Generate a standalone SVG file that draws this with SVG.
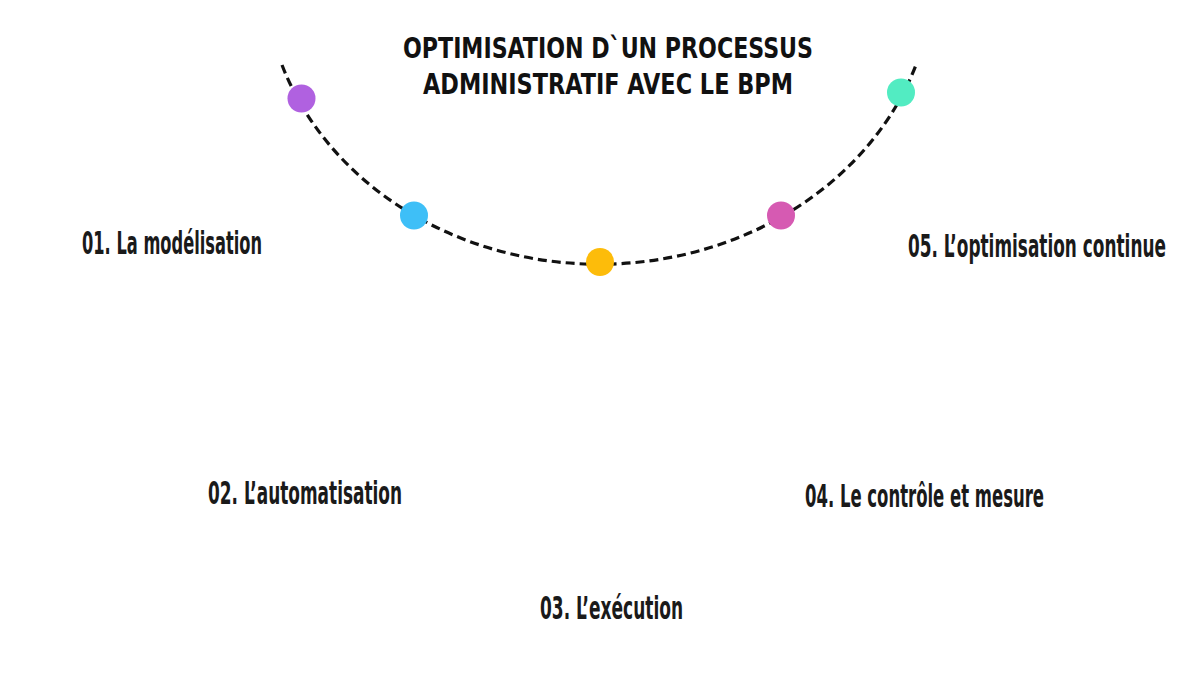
<svg xmlns="http://www.w3.org/2000/svg" width="1200" height="675" viewBox="0 0 1200 675">
<style>
.title{font-family:"DejaVu Sans Condensed","Liberation Sans Narrow",sans-serif;font-weight:bold;font-size:29px;fill:#111}
.lbl{font-family:"Liberation Sans Narrow","DejaVu Sans Condensed",sans-serif;font-weight:bold;font-size:32px;fill:#1a1a1a}
.arc{fill:none;stroke:#111;stroke-width:3.2;stroke-dasharray:9 5}
</style>
<rect width="1200" height="675" fill="#ffffff"/>
<g id="title">
<text class="title" x="403" y="58" textLength="410" lengthAdjust="spacingAndGlyphs">OPTIMISATION D`UN PROCESSUS</text>
<text class="title" x="423" y="94" textLength="370" lengthAdjust="spacingAndGlyphs">ADMINISTRATIF AVEC LE BPM</text>
</g>
<g id="connectors">
<path class="arc" d="M 282 65 A 334.6 293 0 0 0 916 65"/>
</g>
<g id="node1"><circle cx="301.5" cy="98.5" r="14" fill="#b061e0"/><text class="lbl" transform="translate(82,254) scale(0.75,1)" textLength="240" lengthAdjust="spacingAndGlyphs">01. La modélisation</text></g>
<g id="node2"><circle cx="414" cy="215.5" r="14" fill="#3ebff7"/><text class="lbl" transform="translate(208,504) scale(0.75,1)" textLength="258.7" lengthAdjust="spacingAndGlyphs">02. L’automatisation</text></g>
<g id="node3"><circle cx="600" cy="262" r="14" fill="#fdbc0a"/><text class="lbl" transform="translate(540,619) scale(0.75,1)" textLength="190.7" lengthAdjust="spacingAndGlyphs">03. L’exécution</text></g>
<g id="node4"><circle cx="781" cy="215.5" r="14" fill="#d65ab2"/><text class="lbl" transform="translate(805,507) scale(0.75,1)" textLength="318.7" lengthAdjust="spacingAndGlyphs">04. Le contrôle et mesure</text></g>
<g id="node5"><circle cx="901" cy="92.5" r="14" fill="#52ecc2"/><text class="lbl" transform="translate(908,257) scale(0.6,1)" textLength="430" lengthAdjust="spacingAndGlyphs">05. L’optimisation continue</text></g>
</svg>
